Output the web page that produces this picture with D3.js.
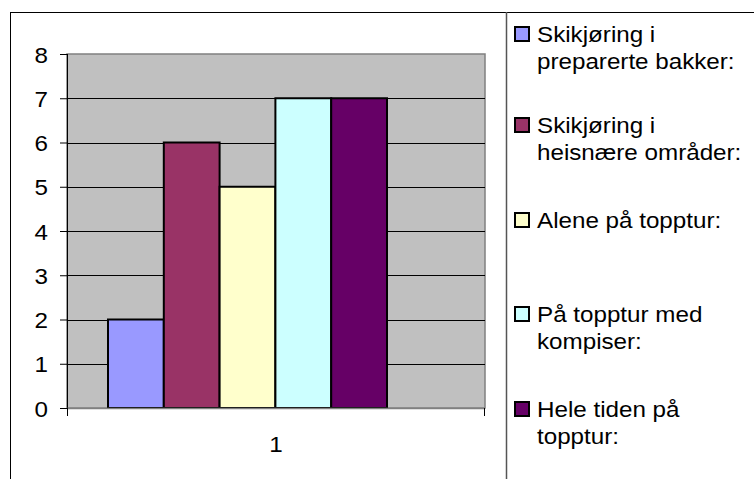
<!DOCTYPE html>
<html>
<head>
<meta charset="utf-8">
<script src="https://cdn.jsdelivr.net/npm/d3@7"></script>
<style>
  html, body { margin: 0; padding: 0; background: #fff; }
  svg { display: block; font-family: "Liberation Sans", Arial, sans-serif; }
</style>
</head>
<body>
<svg id="chart" width="754" height="479"></svg>
<script>
// Survey answers: one category, five series
const categories = ["1"];
const seriesNames = [
  "Skikjøring i preparerte bakker:",
  "Skikjøring i heisnære områder:",
  "Alene på topptur:",
  "På topptur med kompiser:",
  "Hele tiden på topptur:"
];
const seriesValues = [2, 6, 5, 7, 7];
const seriesColors = ["#9999FF", "#993366", "#FFFFCC", "#CCFFFF", "#660066"];
const legendLines = [
  ["Skikjøring i", "preparerte bakker:"],
  ["Skikjøring i", "heisnære områder:"],
  ["Alene på topptur:"],
  ["På topptur med", "kompiser:"],
  ["Hele tiden på", "topptur:"]
];
const yTicks = [0, 1, 2, 3, 4, 5, 6, 7, 8];

const svg = d3.select("#chart");
const W = 754, H = 479;
const FONT = 22;      // text size
const STRETCH = 1.1;  // glyphs are drawn slightly wide

// Plot frame
const plot = { left: 67, right: 485, top: 54, bottom: 408 };
const groupSpan = [108, 387];

// Outer chart frame (extends past the window edges)
svg.append("rect")
  .attr("x", 10.5).attr("y", 12.5)
  .attr("width", W + 20).attr("height", H + 20)
  .attr("fill", "#fff").attr("stroke", "#000").attr("stroke-width", 1);

const y = d3.scaleLinear().domain([0, 8]).range([plot.bottom, plot.top]);
const x0 = d3.scaleBand().domain(categories).range([plot.left, plot.right]);
const x1 = d3.scaleBand().domain(seriesNames).range(groupSpan);

// Text helper: places a label with a horizontal stretch
function label(g, x, yPos, txt, anchor) {
  return g.append("text")
    .attr("transform", `translate(${x},${yPos}) scale(${STRETCH},1)`)
    .attr("text-anchor", anchor || "start")
    .attr("font-size", FONT).attr("fill", "#000")
    .text(txt);
}

// Grey plot background
svg.append("rect")
  .attr("x", plot.left).attr("y", plot.top)
  .attr("width", plot.right - plot.left).attr("height", plot.bottom - plot.top)
  .attr("fill", "#C0C0C0").attr("stroke", "#808080").attr("stroke-width", 1.5);

// Horizontal gridlines
svg.append("g")
  .selectAll("line")
  .data(yTicks.filter(t => t > 0 && t < 8))
  .join("line")
  .attr("x1", plot.left).attr("x2", plot.right)
  .attr("y1", d => Math.round(y(d)) + 0.5).attr("y2", d => Math.round(y(d)) + 0.5)
  .attr("stroke", "#000").attr("stroke-width", 1);

// Bars
svg.append("g")
  .selectAll("rect")
  .data(seriesValues.map((v, i) => ({ v, name: seriesNames[i], color: seriesColors[i] })))
  .join("rect")
  .attr("x", d => x1(d.name))
  .attr("y", d => y(d.v))
  .attr("width", x1.bandwidth())
  .attr("height", d => y(0) - y(d.v))
  .attr("fill", d => d.color)
  .attr("stroke", "#000").attr("stroke-width", 2);

// Y axis (ticks from the axis generator, labels stretched)
const yAxis = d3.axisLeft(y).tickValues(yTicks).tickSize(7).tickFormat("");
const gy = svg.append("g").attr("transform", `translate(${plot.left},0)`).call(yAxis);
gy.select(".domain").attr("d", `M0.5,${plot.top}V${plot.bottom + 8}`).attr("stroke", "#000");
gy.selectAll(".tick line").attr("stroke", "#000");
gy.selectAll(".tick").each(function(d) {
  label(d3.select(this), -19, 8, d3.format("d")(d), "end");
});

// X axis
const gx = svg.append("g").attr("transform", `translate(0,${plot.bottom})`);
gx.append("line").attr("x1", plot.left).attr("x2", plot.right)
  .attr("y1", 0.5).attr("y2", 0.5).attr("stroke", "#808080").attr("stroke-width", 1.5);
[plot.left + 0.5, plot.right - 0.5].forEach(px => {
  gx.append("line").attr("x1", px).attr("x2", px).attr("y1", 0).attr("y2", 8).attr("stroke", "#000");
});
categories.forEach(c => label(gx, x0(c) + x0.bandwidth() / 2, 44, c, "middle"));

// Legend panel divider
svg.append("line")
  .attr("x1", 506.5).attr("x2", 506.5).attr("y1", 12).attr("y2", H)
  .attr("stroke", "#555").attr("stroke-width", 1.5);

// Legend entries
const legendBaselines = [42, 133, 228, 322, 417];
const lineGap = 27;
const legend = svg.append("g");
legendLines.forEach((lines, i) => {
  const by = legendBaselines[i];
  legend.append("rect")
    .attr("x", 515).attr("y", by - 15)
    .attr("width", 14).attr("height", 14)
    .attr("fill", seriesColors[i]).attr("stroke", "#000").attr("stroke-width", 2);
  lines.forEach((t, j) => label(legend, 537, by + j * lineGap, t));
});
</script>
</body>
</html>
